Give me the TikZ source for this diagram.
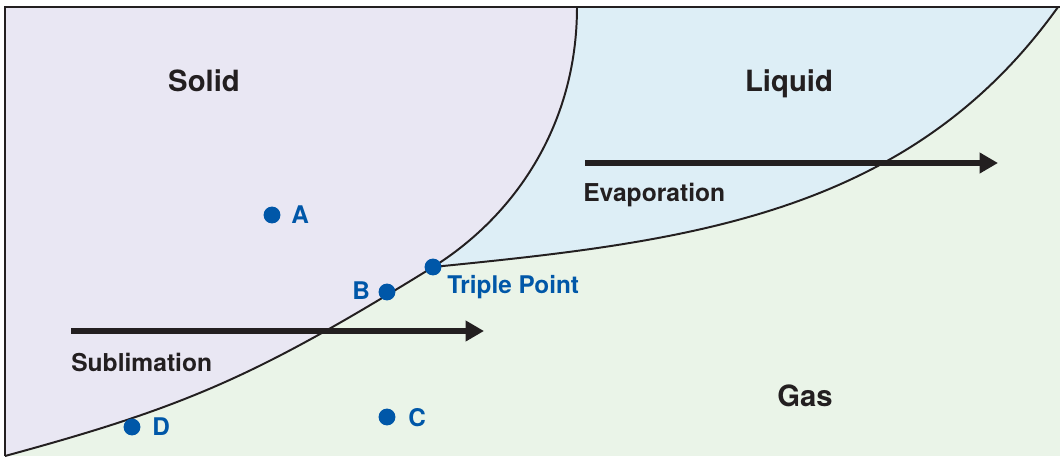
\documentclass[tikz,border=0pt]{standalone}
\usepackage{fontspec}
\setmainfont{TeX Gyre Heros}
\usetikzlibrary{arrows.meta}
\definecolor{solidfill}{HTML}{E9E7F3}
\definecolor{liquidfill}{HTML}{DDEEF6}
\definecolor{gasfill}{HTML}{EAF4E8}
\definecolor{dotblue}{HTML}{0057A8}
\definecolor{inkblack}{HTML}{231F20}

\begin{document}
\begin{tikzpicture}[x=0.025cm,y=-0.025cm]
    \tikzset{phase/.style = {font=\fontsize{20.8}{24}\selectfont\bfseries, text=inkblack, inner sep=0pt, anchor=base}}
    \tikzset{process/.style = {font=\fontsize{17.5}{20}\selectfont\bfseries, text=inkblack, inner sep=0pt, anchor=base west}}
    \tikzset{state/.style = {shape=circle, fill=dotblue, minimum size=12pt, inner sep=0pt}}
    \tikzset{statelabel/.style = {font=\fontsize{17.3}{20}\selectfont\bfseries, text=dotblue, inner sep=0pt, anchor=base west}}
    \tikzset{boundary/.style = {draw=inkblack, line width=1.4pt}}
    \tikzset{change/.style = {draw=inkblack, line width=4pt, -{Triangle[length=13pt,width=14pt]}}}

    \useasboundingbox (0,0) rectangle (1060,456);

    % corners of the curves
    \coordinate (corner) at (5,7);
    \coordinate (meltTop) at (577,7);
    \coordinate (boilTop) at (1058,7);
    \coordinate (sublLow) at (5,456);
    \coordinate (tp) at (433,267);

    % regions
    \fill[gasfill] (corner) rectangle (1060,456);
    \fill[liquidfill] (meltTop) -- (boilTop) .. controls (908,217) and (683,242) .. (tp)
        .. controls (513,217) and (577,127) .. (meltTop) -- cycle;
    \fill[solidfill] (corner) -- (meltTop) .. controls (577,127) and (513,217) .. (tp)
        .. controls (255,377) and (185,407) .. (sublLow) -- cycle;

    % phase boundaries
    \draw[boundary] (meltTop) .. controls (577,127) and (513,217) .. (tp)
        .. controls (255,377) and (185,407) .. (sublLow);
    \draw[boundary] (tp) .. controls (683,242) and (908,217) .. (boilTop);
    \draw[inkblack, line width=1.6pt] (sublLow) -- (corner) -- (1060,7);

    % phases
    \node[phase] (solid) at (204,91) {Solid};
    \node[phase] (liquid) at (789,91) {Liquid};
    \node[phase] (gas) at (805,406) {Gas};

    % processes
    \coordinate (sublstart) at (71,331);
    \coordinate (sublend) at (484,331);
    \coordinate (evapstart) at (585,163);
    \coordinate (evapend) at (998,163);
    \draw[change] (sublstart) -- (sublend);
    \draw[change] (evapstart) -- (evapend);
    \node[process] (subl) at (71,371) {Sublimation};
    \node[process] (evap) at (583,201) {Evaporation};

    % states
    \node[state] (A) at (272,215) {};
    \node[state] (B) at (387,292) {};
    \node[state] (C) at (387,417) {};
    \node[state] (D) at (132,427) {};
    \node[state] (triple) at (tp) {};
    \node[statelabel] (labA) at (291,223) {A};
    \node[statelabel] (labB) at (352,299) {B};
    \node[statelabel] (labC) at (408,426) {C};
    \node[statelabel] (labD) at (152,435) {D};
    \node[statelabel] (labtriple) at (447,293) {Triple Point};
\end{tikzpicture}
\end{document}
